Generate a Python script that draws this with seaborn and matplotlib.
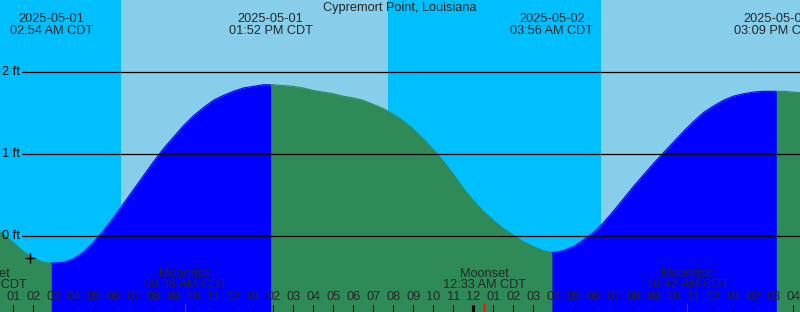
import matplotlib
matplotlib.use("Agg")
import matplotlib.pyplot as plt
import numpy as np
import pandas as pd
import seaborn as sns

# ---------------- data ----------------
title = "Cypremort Point, Louisiana"
# tide height (ft) read every half hour, hours since 2025-05-01 00:00 CDT
heights = [0.13, 0.02, -0.08, -0.19, -0.27, -0.32, -0.33, -0.32, -0.28, -0.20,
           -0.08, 0.06, 0.22, 0.39, 0.56, 0.73, 0.90, 1.06, 1.20, 1.34,
           1.46, 1.56, 1.65, 1.71, 1.76, 1.80, 1.82, 1.84, 1.84, 1.83,
           1.82, 1.80, 1.77, 1.75, 1.73, 1.70, 1.68, 1.65, 1.60, 1.55,
           1.48, 1.40, 1.30, 1.18, 1.05, 0.91, 0.75, 0.58, 0.43, 0.30,
           0.19, 0.09, 0.01, -0.07, -0.13, -0.18, -0.20, -0.18, -0.13, -0.05,
           0.04, 0.16, 0.30, 0.45, 0.60, 0.74, 0.88, 1.01, 1.14, 1.27,
           1.39, 1.50, 1.58, 1.65, 1.70, 1.73, 1.75, 1.76, 1.76, 1.76,
           1.75, 1.74, 1.73]
hours = [i * 0.5 for i in range(len(heights))]
extreme_hours = [2.9, 13.867, 27.933, 39.15]
extreme_heights = [-0.33, 1.84, -0.20, 1.76]
extreme_dates = ["2025-05-01", "2025-05-01", "2025-05-02", "2025-05-02"]
extreme_times = ["02:54 AM CDT", "01:52 PM CDT", "03:56 AM CDT", "03:09 PM CDT"]
sunrise_hours = [6.37, 30.37]
sunset_hours = [19.73]
moon_hours = [-0.39, 9.6, 24.55, 34.7]
moon_events = ["Moonset", "Moonrise", "Moonset", "Moonrise"]
moon_times = ["11:37 PM CDT", "09:36 AM CDT", "12:33 AM CDT", "10:42 AM CDT"]
ytick_values = [0, 1, 2]
ytick_labels = ["0 ft", "1 ft", "2 ft"]
now_hour = 1.835
now_height = -0.27

# ---------------- style ----------------
sns.set_style("white")
plt.rcParams['font.family'] = ['Liberation Sans', 'DejaVu Sans']
FS = 9.2
NIGHT = "#00BFFF"
DAY = "#87CEEB"
RISE = "#0000FF"
FALL = "#2E8B57"

fig = plt.figure(figsize=(8, 3.12), dpi=100)
ax = fig.add_axes([0, 0, 1, 1])
XMIN, XMAX = 0.335, 40.335
YMIN, YMAX = -0.925, 2.871

# day / night background
ax.axvspan(XMIN - 1, XMAX + 1, color=NIGHT, lw=0, zorder=0)
day_ends = sunset_hours + [XMAX + 1]
for a, b in zip(sunrise_hours, day_ends):
    ax.axvspan(a, b, color=DAY, lw=0, zorder=0.5)

# tide curve
df = pd.DataFrame({"hour": hours + extreme_hours,
                   "height": heights + extreme_heights}).sort_values("hour")
bounds = [hours[0]] + extreme_hours + [hours[-1]]
for i in range(len(bounds) - 1):
    a, b = bounds[i], bounds[i + 1]
    seg = df[(df.hour >= a) & (df.hour <= b)]
    # fill slightly past the segment end; the next segment paints over it
    seg_fill = df[(df.hour >= a) & (df.hour <= b + 0.5)]
    col = FALL if i % 2 == 0 else RISE
    ax.fill_between(seg_fill.hour, seg_fill.height, YMIN - 1, color=col, lw=0,
                    zorder=1 + i * 0.01)
    sns.lineplot(data=seg, x="hour", y="height", color=col, lw=0.8,
                 ax=ax, zorder=1.5, legend=False)
ax.set_xlim(XMIN, XMAX)
ax.set_ylim(YMIN, YMAX)
ax.axis("off")

# grid lines + labels
ytr = ax.get_yaxis_transform()
for v, lab in zip(ytick_values, ytick_labels):
    ax.axhline(v, xmin=22 / 800, xmax=1, color="black", lw=0.9, zorder=5)
    ax.text(20 / 800, v, lab, transform=ytr, ha="right", va="center",
            fontsize=FS, color="black", zorder=6)

xtr = ax.get_xaxis_transform()
H = 312.0
ax.text(0.5, 1 - 7.5 / H, title, transform=ax.transAxes, ha="center",
        va="center", fontsize=FS, zorder=6)
for h, d, t in zip(extreme_hours, extreme_dates, extreme_times):
    ax.text(h, 1 - 19.5 / H, d, transform=xtr, ha="center", va="center", fontsize=FS, zorder=6)
    ax.text(h, 1 - 31.5 / H, t, transform=xtr, ha="center", va="center", fontsize=FS, zorder=6)

for h, ev, t in zip(moon_hours, moon_events, moon_times):
    ax.text(h, 1 - 274 / H, ev, transform=xtr, ha="center", va="center", fontsize=FS, zorder=6)
    ax.text(h, 1 - 285.5 / H, t, transform=xtr, ha="center", va="center", fontsize=FS, zorder=6)
    ax.vlines(h, 0, 9 / H, transform=xtr, color="red", lw=0.8, zorder=7)

for h in range(1, 41):
    lab = f"{((h - 1) % 12) + 1:02d}"
    ax.text(h, 1 - 297.5 / H, lab, transform=xtr, ha="center", va="center",
            fontsize=FS, zorder=6)
    lw = 2.2 if h % 24 == 0 else 0.8
    ax.vlines(h, 0, 7 / H, transform=xtr, color="black", lw=lw, zorder=6)

ax.plot([now_hour], [now_height], marker="+", ms=7, mew=1, color="black",
        ls="none", zorder=8)

fig.savefig("out.png", dpi=100)
